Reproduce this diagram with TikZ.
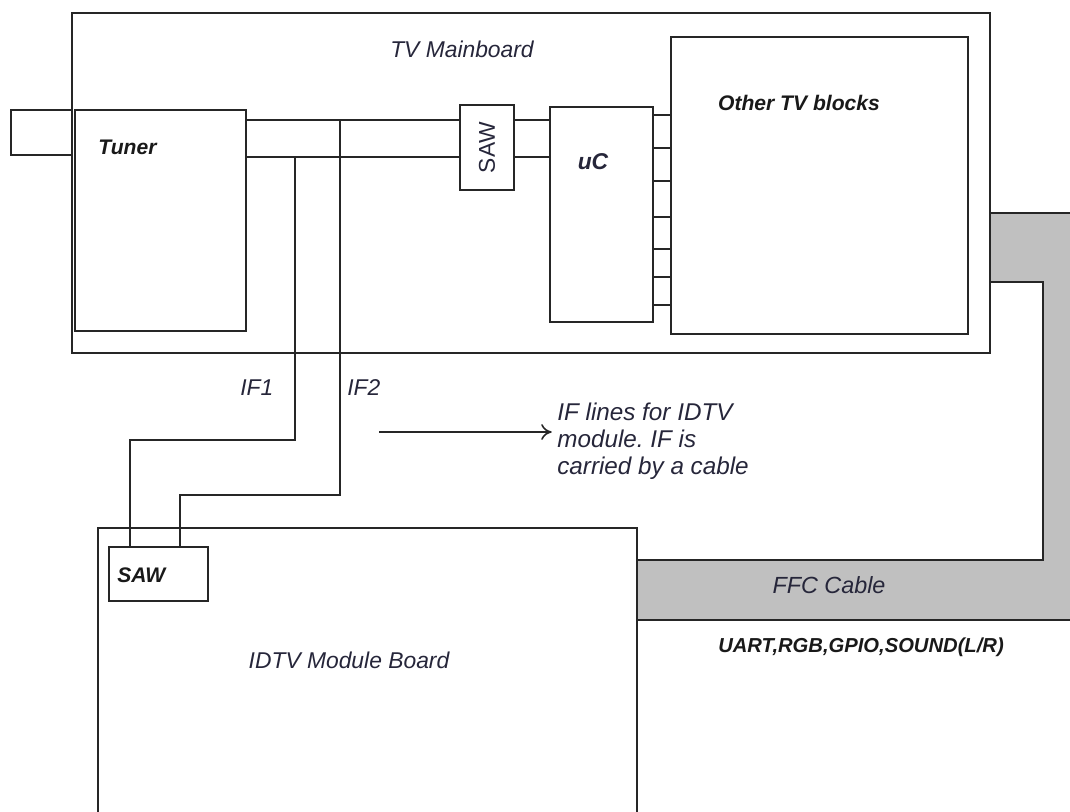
\documentclass[tikz,border=0pt]{standalone}
\usepackage{fontspec}
\setmainfont{Liberation Sans}
\usetikzlibrary{arrows.meta}
\definecolor{ffcgray}{RGB}{192,192,192}
\definecolor{inktext}{RGB}{38,38,58}
\tikzset{
  blk/.style={draw=black!85,line width=1pt,inner sep=0pt},
  wire/.style={black!85,line width=1pt},
  note/.style={font=\fontsize{13}{15.5}\selectfont\itshape,text=inktext,inner sep=0pt},
  tag/.style={font=\fontsize{12}{14}\selectfont\bfseries\itshape,text=black!90,inner sep=0pt}
}

\begin{document}
\frenchspacing
\begin{tikzpicture}[x=0.02cm,y=-0.02cm,line cap=rect,line join=miter]
\useasboundingbox (0,0) rectangle (1070,811);
\clip (0,0) rectangle (1070,811);
% FFC cable band
\fill[ffcgray] (990,213) -- (1070,213) -- (1070,620) -- (637,620) -- (637,560)
  -- (1043,560) -- (1043,282) -- (990,282) -- cycle;
\draw[wire] (990,213) -- (1070,213);
\draw[wire] (990,282) -- (1043,282) -- (1043,560) -- (637,560);
\draw[wire] (637,620) -- (1070,620);
% boards and blocks
\node[blk,minimum width=18.36cm,minimum height=6.8cm] (mainboard) at (531,183) {};
\node[blk,minimum width=1.22cm,minimum height=0.9cm] (antenna) at (41.5,132.5) {};
\node[blk,fill=white,minimum width=3.42cm,minimum height=4.42cm] (tuner) at (160.5,220.5) {};
\node[blk,minimum width=1.08cm,minimum height=1.7cm] (saw) at (487,147.5) {};
\node[blk,minimum width=2.06cm,minimum height=4.3cm] (uc) at (601.5,214.5) {};
\node[blk,minimum width=5.94cm,minimum height=5.94cm] (other) at (819.5,185.5) {};
\node[blk,minimum width=10.78cm,minimum height=6.04cm] (idtv) at (367.5,679) {};
\node[blk,minimum width=1.98cm,minimum height=1.08cm] (modsaw) at (158.5,574) {};
% labels
\node[note] (mainlbl) at (462,49) {TV Mainboard};
\node[tag,anchor=west] (tunerlbl) at (98,147) {Tuner};
\node[note,font=\fontsize{13}{15}\selectfont,rotate=90] (sawlbl) at (saw.center) {SAW};
\node[note,font=\fontsize{13}{15}\selectfont\bfseries\itshape] (uclbl) at (593,162) {uC};
\node[tag] (otherlbl) at (799,103) {Other TV blocks};
\node[tag,anchor=west] (modsawlbl) at (117,575) {SAW};
\node[note] (idtvlbl) at (349,660) {IDTV Module Board};
\node[note,font=\fontsize{13.3}{15.5}\selectfont\itshape] (ffclbl) at (829,585) {FFC Cable};
\node[tag,font=\fontsize{11.5}{14}\selectfont\bfseries\itshape] (buslbl) at (861,647) {UART,RGB,GPIO,SOUND(L/R)};
\node[note,anchor=west] (if1lbl) at (240,388) {IF1};
\node[note,anchor=west] (if2lbl) at (347,388) {IF2};
\node[note,font=\fontsize{13.8}{15.4}\selectfont\itshape,anchor=west,align=left] (iflbl) at (557,441) {IF lines for IDTV\\module. IF is\\carried by a cable};
% tuner to SAW to uC
\draw[wire] (tuner.east |- 0,120) -- (saw.west |- 0,120);
\draw[wire] (tuner.east |- 0,157) -- (saw.west |- 0,157);
\draw[wire] (saw.east |- 0,120) -- (uc.west |- 0,120);
\draw[wire] (saw.east |- 0,157) -- (uc.west |- 0,157);
% uC pins
\foreach \py in {115,148,181,217,249,277,305}
  \draw[wire] (uc.east |- 0,\py) -- (other.west |- 0,\py);
% IF lines to module SAW
\coordinate (if1) at (295,157);
\coordinate (if2) at (340,120);
\draw[wire] (if1) -- (295,440) -- (130,440) -- (modsaw.north -| 130,0);
\draw[wire] (if2) -- (340,495) -- (180,495) -- (modsaw.north -| 180,0);
\coordinate (arrowtail) at (380,432);
\draw[wire,line width=0.9pt,-{To[length=6pt,width=9pt]}] (arrowtail) -- ([xshift=-3pt]iflbl.west |- arrowtail);
\end{tikzpicture}
\end{document}
